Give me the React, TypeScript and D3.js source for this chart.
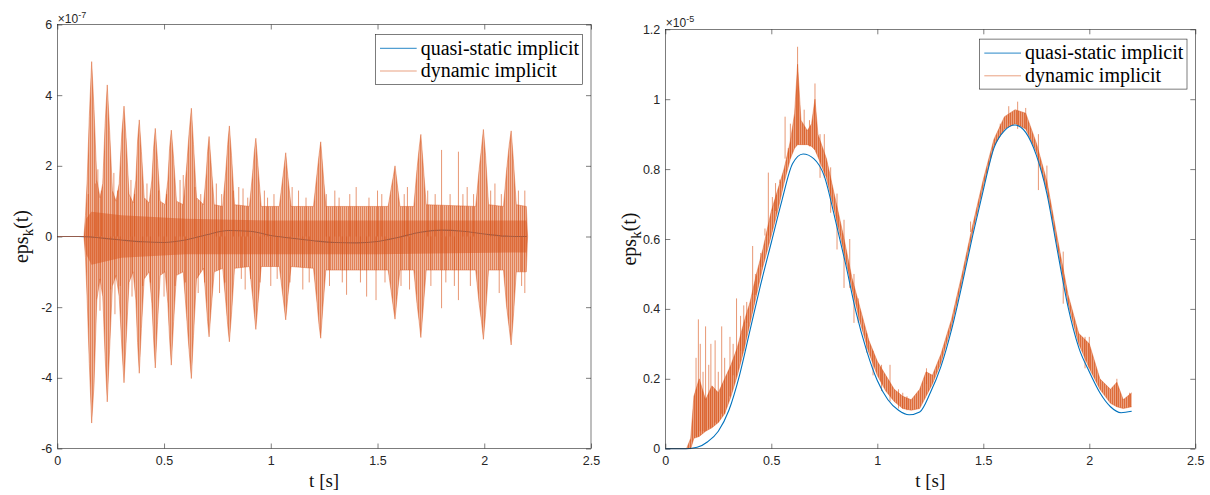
import { useEffect, useRef } from "react";
import * as d3 from "d3";

type Pt = [number, number];
type Env = [number, number, number]; // t, upper, lower

const tTicks = [0, 0.5, 1, 1.5, 2, 2.5];
const leftYTicks = [-6, -4, -2, 0, 2, 4, 6];
const rightYTicks = [0, 0.2, 0.4, 0.6, 0.8, 1, 1.2];
const seriesNames = ["quasi-static implicit", "dynamic implicit"];

// ---- left panel (x 1e-7) ----
const leftQuasi: Pt[] = [
  [0, 0], [0.1, 0], [0.15, -0.01], [0.2, -0.04], [0.3, -0.1], [0.4, -0.15], [0.5, -0.17],
  [0.6, -0.1], [0.7, 0.05], [0.8, 0.17], [0.9, 0.15], [1.0, 0.03], [1.1, -0.05], [1.2, -0.12],
  [1.3, -0.17], [1.4, -0.18], [1.5, -0.14], [1.6, -0.02], [1.7, 0.12], [1.8, 0.18], [1.9, 0.15],
  [2.0, 0.07], [2.1, 0.01], [2.2, 0],
];

// envelope of the dynamic signal: [t, top, bottom]
const leftDynEnv: Env[] = [
  [0, 0, 0], [0.125, 0, 0], [0.132, 0.6, -0.6], [0.14, 1.6, -1.8], [0.15, 3.4, -3.6],
  [0.161, 4.95, -5.28], [0.172, 3.6, -4.2], [0.185, 1.6, -1.8], [0.2, 1.1, -1.2],
  [0.213, 1.5, -1.7], [0.224, 3.2, -3.4], [0.234, 4.29, -4.68], [0.245, 3.0, -3.2],
  [0.258, 1.3, -1.4], [0.275, 1.0, -1.1], [0.29, 1.5, -1.7], [0.302, 2.9, -3.1],
  [0.3125, 3.69, -4.14], [0.323, 2.7, -2.9], [0.336, 1.2, -1.3], [0.355, 0.95, -1.0],
  [0.368, 1.6, -1.8], [0.376, 2.7, -3.0], [0.384, 3.3, -3.87], [0.394, 2.4, -2.6],
  [0.407, 1.1, -1.2], [0.43, 0.95, -1.0], [0.443, 1.6, -1.9], [0.451, 2.5, -2.9],
  [0.459, 3.06, -3.72], [0.469, 2.2, -2.5], [0.482, 1.0, -1.1], [0.505, 0.9, -1.0],
  [0.518, 1.6, -1.9], [0.526, 2.5, -2.9], [0.534, 3.01, -3.64], [0.545, 2.2, -2.4],
  [0.558, 1.0, -1.1], [0.59, 0.9, -1.0], [0.605, 1.9, -2.2], [0.617, 2.9, -3.2],
  [0.628, 3.63, -4.02], [0.638, 2.6, -2.8], [0.652, 1.1, -1.2], [0.685, 0.9, -0.9],
  [0.698, 1.8, -1.9], [0.704, 2.4, -2.4], [0.711, 2.83, -2.84], [0.72, 2.1, -2.1],
  [0.735, 0.9, -1.0], [0.775, 0.85, -0.9], [0.79, 1.9, -1.9], [0.798, 2.6, -2.5],
  [0.806, 3.13, -2.98], [0.816, 2.3, -2.2], [0.83, 0.9, -0.9], [0.9, 0.85, -0.85],
  [0.915, 1.8, -1.7], [0.923, 2.4, -2.2], [0.93, 2.78, -2.63], [0.94, 2.0, -1.9],
  [0.955, 0.85, -0.85], [1.04, 0.85, -0.85], [1.055, 1.6, -1.6], [1.063, 2.0, -2.0],
  [1.07, 2.37, -2.36], [1.08, 1.7, -1.7], [1.095, 0.85, -0.85], [1.2, 0.85, -0.9],
  [1.217, 1.8, -1.9], [1.226, 2.3, -2.5], [1.234, 2.68, -2.88], [1.244, 1.9, -2.0],
  [1.258, 0.85, -0.95], [1.55, 0.85, -0.95], [1.565, 1.4, -1.6], [1.574, 1.7, -2.0],
  [1.582, 2.0, -2.34], [1.592, 1.5, -1.7], [1.605, 0.85, -0.95], [1.67, 0.85, -0.95],
  [1.685, 1.9, -1.9], [1.695, 2.5, -2.4], [1.703, 2.89, -2.86], [1.713, 2.1, -2.1],
  [1.728, 0.9, -0.95], [1.96, 0.85, -0.95], [1.976, 1.9, -1.9], [1.987, 2.5, -2.4],
  [1.996, 3.03, -2.91], [2.006, 2.3, -2.2], [2.02, 0.9, -0.95], [2.09, 0.85, -0.95],
  [2.105, 1.9, -2.0], [2.117, 2.6, -2.6], [2.126, 2.99, -3.07], [2.136, 2.2, -2.3],
  [2.15, 0.9, -1.0], [2.197, 0.85, -1.0], [2.203, 0, 0],
];

// dense core of the oscillation
const leftDynCore: Env[] = [
  [0.125, 0, 0], [0.135, 0.5, -0.5], [0.16, 0.7, -0.8], [0.3, 0.6, -0.6], [0.6, 0.5, -0.5],
  [1.0, 0.45, -0.5], [1.5, 0.45, -0.5], [2.197, 0.45, -0.45], [2.203, 0, 0],
];

// single strokes standing out of the noise band
const leftDynSpikes: Pt[] = [
  [0.145, 1.2], [0.178, 1.5], [0.19, 1.9], [0.2, -2.1], [0.207, 1.3], [0.25, -1.5],
  [0.265, 1.8], [0.27, -2.2], [0.282, 1.3], [0.295, -1.4], [0.345, 1.6], [0.35, -1.7],
  [0.362, 1.2], [0.4, -1.4], [0.42, 1.5], [0.436, -1.3], [0.475, 1.3], [0.5, -1.7],
  [0.512, 1.2], [0.552, -1.4], [0.575, 1.6], [0.59, 1.74], [0.6, -1.3], [0.645, 1.4],
  [0.66, -1.6], [0.672, 1.2], [0.69, -1.3], [0.745, 1.5], [0.76, -1.6], [0.77, 1.2],
  [0.785, -1.3], [0.825, 1.3], [0.85, 1.4], [0.862, -1.2], [0.87, 1.36], [0.88, -1.5],
  [0.892, 1.1], [0.905, -1.2], [0.95, -1.3], [0.97, 1.3], [0.985, 1.1], [1.0, -1.4],
  [1.015, 1.2], [1.03, -1.2], [1.09, -1.3], [1.1, 1.4], [1.13, 1.3], [1.15, -1.5],
  [1.165, 1.1], [1.18, -1.3], [1.26, 1.2], [1.275, -1.4], [1.3, 1.3], [1.32, 1.1],
  [1.335, -1.3], [1.355, -1.65], [1.37, 1.2], [1.4, 1.4], [1.42, -1.3], [1.449, -1.7],
  [1.46, 1.1], [1.493, -1.8], [1.5, 1.3], [1.52, 1.2], [1.535, -1.3], [1.61, -1.4],
  [1.625, 1.2], [1.64, 1.4], [1.65, -1.5], [1.735, 1.3], [1.75, -1.4], [1.77, 1.2],
  [1.8, 2.45], [1.8, -2.03], [1.82, -1.3], [1.84, 1.2], [1.86, -1.4], [1.879, 2.4],
  [1.879, -1.8], [1.9, 1.2], [1.92, 1.4], [1.935, -1.4], [1.95, 1.2], [2.03, 1.3],
  [2.05, 1.5], [2.07, -1.6], [2.08, 1.2], [2.16, 1.3], [2.175, -1.4], [2.19, 1.3],
  [2.19, -1.6],
];

// ---- right panel (x 1e-5) ----
const rightQuasi: Pt[] = [
  [0, 0], [0.1, 0], [0.15, 0.004], [0.2, 0.02], [0.25, 0.05], [0.3, 0.11], [0.35, 0.21],
  [0.4, 0.34], [0.45, 0.47], [0.5, 0.59], [0.55, 0.71], [0.6, 0.815], [0.65, 0.843],
  [0.7, 0.83], [0.75, 0.78], [0.8, 0.66], [0.85, 0.53], [0.9, 0.39], [0.95, 0.28],
  [1.0, 0.195], [1.05, 0.14], [1.1, 0.11], [1.15, 0.097], [1.2, 0.105], [1.25, 0.16],
  [1.3, 0.235], [1.35, 0.34], [1.4, 0.47], [1.45, 0.61], [1.5, 0.74], [1.55, 0.86],
  [1.6, 0.91], [1.65, 0.926], [1.7, 0.905], [1.75, 0.84], [1.8, 0.73], [1.85, 0.565],
  [1.9, 0.405], [1.95, 0.29], [2.0, 0.22], [2.05, 0.16], [2.1, 0.12], [2.15, 0.103],
  [2.2, 0.107],
];

const rightDynEnv: Env[] = [
  [0, 0, 0], [0.1, 0, 0], [0.12, 0.03, 0], [0.135, 0.15, 0.03], [0.16, 0.2, 0.035],
  [0.19, 0.14, 0.05], [0.22, 0.18, 0.06], [0.25, 0.16, 0.075], [0.28, 0.2, 0.1],
  [0.31, 0.24, 0.15], [0.34, 0.29, 0.21], [0.37, 0.36, 0.28], [0.4, 0.42, 0.36],
  [0.43, 0.5, 0.44], [0.46, 0.57, 0.52], [0.5, 0.68, 0.61], [0.53, 0.74, 0.68],
  [0.56, 0.8, 0.76], [0.59, 0.88, 0.83], [0.61, 0.96, 0.86], [0.624, 1.1, 0.87],
  [0.64, 0.94, 0.87], [0.67, 0.91, 0.87], [0.69, 0.93, 0.865], [0.706, 1.0, 0.855],
  [0.72, 0.9, 0.835], [0.76, 0.83, 0.775], [0.8, 0.72, 0.675], [0.84, 0.61, 0.57],
  [0.88, 0.49, 0.46], [0.92, 0.4, 0.36], [0.96, 0.31, 0.275], [1.0, 0.25, 0.21],
  [1.04, 0.21, 0.165], [1.08, 0.17, 0.135], [1.12, 0.15, 0.115], [1.16, 0.14, 0.11],
  [1.2, 0.17, 0.115], [1.23, 0.22, 0.15], [1.26, 0.21, 0.185], [1.3, 0.27, 0.245],
  [1.35, 0.37, 0.35], [1.4, 0.5, 0.48], [1.45, 0.64, 0.62], [1.5, 0.77, 0.75],
  [1.55, 0.885, 0.865], [1.6, 0.95, 0.915], [1.65, 0.97, 0.93], [1.7, 0.96, 0.915],
  [1.75, 0.875, 0.85], [1.8, 0.765, 0.74], [1.85, 0.6, 0.575], [1.9, 0.44, 0.415],
  [1.95, 0.33, 0.3], [2.0, 0.3, 0.23], [2.05, 0.2, 0.17], [2.1, 0.17, 0.13],
  [2.13, 0.19, 0.12], [2.16, 0.14, 0.115], [2.2, 0.16, 0.12],
];

const rightDynSpikes: Pt[] = [
  [0.145, 0.26], [0.156, 0.37], [0.165, 0.3], [0.178, 0.22], [0.19, 0.35], [0.205, 0.24],
  [0.215, 0.3], [0.235, 0.31], [0.25, 0.22], [0.266, 0.35], [0.28, 0.26], [0.305, 0.32],
  [0.32, 0.3], [0.336, 0.43], [0.355, 0.38], [0.37, 0.41], [0.384, 0.42], [0.412, 0.58],
  [0.425, 0.5], [0.45, 0.56], [0.47, 0.63], [0.486, 0.79], [0.505, 0.72], [0.52, 0.76],
  [0.54, 0.77], [0.565, 0.95], [0.58, 0.86], [0.59, 0.93], [0.624, 1.15], [0.655, 0.97],
  [0.68, 0.94], [0.706, 1.045], [0.73, 0.9], [0.75, 0.9], [0.78, 0.805], [0.81, 0.73],
  [0.843, 0.655], [0.87, 0.6], [0.89, 0.5], [0.91, 0.43], [0.95, 0.33], [0.98, 0.28],
  [1.02, 0.24], [1.06, 0.24], [1.1, 0.17], [1.12, 0.16], [1.14, 0.15], [1.232, 0.23],
  [1.44, 0.65], [1.58, 0.93], [1.62, 0.98], [1.662, 0.993], [1.7, 0.975], [1.76, 0.9],
  [1.8, 0.81], [1.877, 0.564], [1.98, 0.32], [2.0, 0.32], [2.13, 0.2], [2.19, 0.16],
];

const BLUE = "#0072BD";
const ORANGE = "#D95319";
const AX = "#262626";
const SANS = "'Liberation Sans', Arial, sans-serif";
const SERIF = "'Liberation Serif', 'Times New Roman', serif";

type Panel = {
  id: string;
  left: number; right: number; top: number; bottom: number;
  yDomain: [number, number]; yTicks: number[]; exp: string;
  quasi: Pt[]; env: Env[]; core: Env[] | null; spikes: Pt[];
  stripes: [number, number]; quasiOnTop: boolean;
};

const panels: Panel[] = [
  {
    id: "l", left: 57.3, right: 591, top: 24.5, bottom: 448.5, yDomain: [-6, 6], yTicks: leftYTicks,
    exp: "-7", quasi: leftQuasi, env: leftDynEnv, core: leftDynCore, spikes: leftDynSpikes,
    stripes: [0.72, 0.42], quasiOnTop: false,
  },
  {
    id: "r", left: 665.3, right: 1195.3, top: 29.3, bottom: 448.7, yDomain: [0, 1.2], yTicks: rightYTicks,
    exp: "-5", quasi: rightQuasi, env: rightDynEnv, core: null, spikes: rightDynSpikes,
    stripes: [0.85, 0.55], quasiOnTop: true,
  },
];

function drawPanel(svg: any, p: Panel) {
  const g = svg.append("g");
  const x = d3.scaleLinear().domain([0, 2.5]).range([p.left, p.right]);
  const y = d3.scaleLinear().domain(p.yDomain).range([p.bottom, p.top]);

  // vertical hatch, to mimic the many overlapping strokes of the dense signal
  const pat = svg.select("defs").append("pattern").attr("id", `hatch-${p.id}`)
    .attr("patternUnits", "userSpaceOnUse").attr("width", 2).attr("height", 8);
  pat.append("rect").attr("width", 1).attr("height", 8).attr("fill", ORANGE).attr("fill-opacity", p.stripes[0]);
  pat.append("rect").attr("x", 1).attr("width", 1).attr("height", 8).attr("fill", ORANGE).attr("fill-opacity", p.stripes[1]);

  // ticks (inside, on all four sides)
  const styleAxis = (a: any) => {
    a.select(".domain").remove();
    a.selectAll("line").attr("stroke", AX).attr("stroke-width", 0.6);
    a.selectAll("text").attr("fill", AX).attr("font-family", SANS).attr("font-size", 12.5);
  };
  g.append("g").attr("transform", `translate(0,${p.bottom})`)
    .call(d3.axisBottom(x).tickValues(tTicks).tickSize(-5).tickPadding(7.5).tickFormat((d: any) => String(d)))
    .call(styleAxis);
  g.append("g").attr("transform", `translate(0,${p.top})`)
    .call(d3.axisTop(x).tickValues(tTicks).tickSize(-5).tickFormat(() => ""))
    .call(styleAxis);
  g.append("g").attr("transform", `translate(${p.left},0)`)
    .call(d3.axisLeft(y).tickValues(p.yTicks).tickSize(-5).tickPadding(5).tickFormat((d: any) => String(d)))
    .call(styleAxis);
  g.append("g").attr("transform", `translate(${p.right},0)`)
    .call(d3.axisRight(y).tickValues(p.yTicks).tickSize(-5).tickFormat(() => ""))
    .call(styleAxis);

  const line = d3.line<Pt>().x((d) => x(d[0])).y((d) => y(d[1])).curve(d3.curveMonotoneX);
  const drawQuasi = () =>
    g.append("path").datum(p.quasi).attr("d", line).attr("fill", "none")
      .attr("stroke", BLUE).attr("stroke-width", 1.1);
  if (!p.quasiOnTop) drawQuasi();

  // dynamic: envelope area, dense core, edges and spikes
  const area = d3.area<Env>().x((d) => x(d[0])).y0((d) => y(d[2])).y1((d) => y(d[1]));
  g.append("path").datum(p.env).attr("d", area).attr("fill", `url(#hatch-${p.id})`);
  if (p.core) {
    g.append("path").datum(p.core).attr("d", area).attr("fill", ORANGE).attr("fill-opacity", 0.5);
  }
  const edgeTop = d3.line<Env>().x((d) => x(d[0])).y((d) => y(d[1]));
  const edgeBot = d3.line<Env>().x((d) => x(d[0])).y((d) => y(d[2]));
  [edgeTop, edgeBot].forEach((e) =>
    g.append("path").datum(p.env).attr("d", e).attr("fill", "none")
      .attr("stroke", ORANGE).attr("stroke-opacity", 0.55).attr("stroke-width", 0.8));

  const base = (t: number) => {
    // spikes rise from zero on the left panel, from the band's lower edge on the right one
    if (p.core) return 0;
    const i = d3.bisector((d: Env) => d[0]).left(p.env, t);
    return p.env[Math.min(i, p.env.length - 1)][2];
  };
  g.append("g").selectAll("line").data(p.spikes).join("line")
    .attr("x1", (d: Pt) => x(d[0])).attr("x2", (d: Pt) => x(d[0]))
    .attr("y1", (d: Pt) => y(base(d[0]))).attr("y2", (d: Pt) => y(d[1]))
    .attr("stroke", ORANGE).attr("stroke-opacity", 0.6).attr("stroke-width", 1);

  if (p.quasiOnTop) drawQuasi();

  // box
  g.append("rect").attr("x", p.left).attr("y", p.top)
    .attr("width", p.right - p.left).attr("height", p.bottom - p.top)
    .attr("fill", "none").attr("stroke", AX).attr("stroke-width", 0.6);

  // exponent
  const ex = g.append("text").attr("x", p.left + 0.5).attr("y", p.top - 2)
    .attr("font-family", SANS).attr("font-size", 12).attr("fill", AX);
  ex.append("tspan").text("×10");
  ex.append("tspan").attr("dy", -5).attr("font-size", 9).text(p.exp);

  // axis labels
  g.append("text").attr("x", (p.left + p.right) / 2).attr("y", 487)
    .attr("text-anchor", "middle").attr("font-family", SERIF).attr("font-size", 19)
    .attr("fill", "#111").text("t [s]");
  const yl = g.append("text")
    .attr("transform", `translate(${p.left - 29},${(p.top + p.bottom) / 2}) rotate(-90)`)
    .attr("text-anchor", "middle").attr("font-family", SERIF).attr("font-size", 20).attr("fill", "#111");
  yl.append("tspan").text("eps");
  yl.append("tspan").attr("dy", 5).attr("font-size", 15).text("k");
  yl.append("tspan").attr("dy", -5).text("(t)");

  // legend
  const lx = p.right - 215.7;
  const ly = p.top + 9.8;
  const lg = g.append("g");
  lg.append("rect").attr("x", lx).attr("y", ly).attr("width", 207.4).attr("height", 50)
    .attr("fill", "#fff").attr("stroke", AX).attr("stroke-width", 0.6);
  seriesNames.forEach((name, i) => {
    const cy = ly + 14 + i * 22.7;
    lg.append("line").attr("x1", lx + 4.7).attr("x2", lx + 41.4).attr("y1", cy).attr("y2", cy)
      .attr("stroke", i === 0 ? BLUE : ORANGE).attr("stroke-opacity", i === 0 ? 0.85 : 0.55)
      .attr("stroke-width", 1);
    lg.append("text").attr("x", lx + 45.4).attr("y", cy + 6.2)
      .attr("font-family", SERIF).attr("font-size", 20).attr("fill", "#000").text(name);
  });
}

export default function App() {
  const svgRef = useRef<SVGSVGElement | null>(null);

  useEffect(() => {
    const svg = d3.select(svgRef.current);
    svg.selectAll("*").remove();
    svg.append("defs");
    panels.forEach((p) => drawPanel(svg, p));
  }, []);

  return (
    <svg
      ref={svgRef}
      width={1210}
      height={495}
      style={{ position: "absolute", left: 0, top: 0, background: "#fff" }}
    />
  );
}
